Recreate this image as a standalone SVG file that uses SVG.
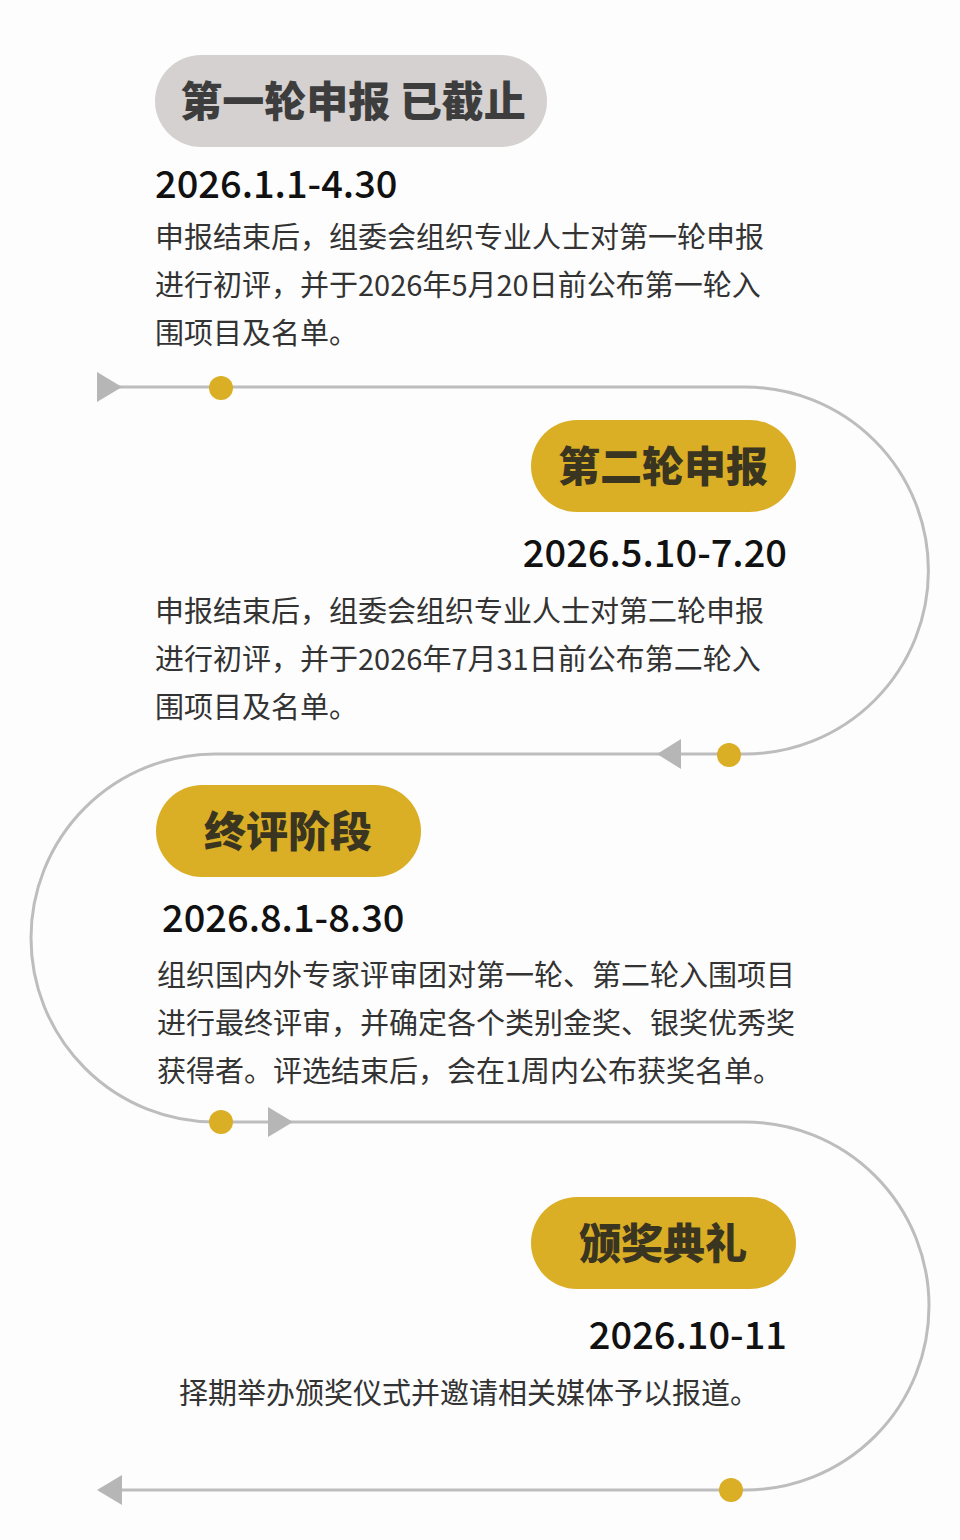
<svg xmlns="http://www.w3.org/2000/svg" width="960" height="1540" viewBox="0 0 960 1540">
<style>
.pt{font-family:"Noto Sans CJK SC",sans-serif;font-weight:900;font-size:42px;text-anchor:middle}
.dt{font-family:"Noto Sans CJK SC",sans-serif;font-weight:500;font-size:38px;fill:#111}
.bd{font-family:"Noto Sans CJK SC",sans-serif;font-size:29px;fill:#333}
.gold{fill:#DAAE25}
.tri{fill:#B5B6B5}
</style>
<rect width="960" height="1540" fill="#fdfdfd"/>
<g id="connectors">
<path d="M110 387 H745 A183.5 183.5 0 0 1 745 754 H215 A184 184 0 0 0 215 1122 H745 A184 184 0 0 1 745 1490 H110" fill="none" stroke="#BDBDBD" stroke-width="3"/>
<polygon class="tri" points="97,372 122,387 97,402"/>
<polygon class="tri" points="681,739 657,754 681,769"/>
<polygon class="tri" points="268,1107 293,1122 268,1137"/>
<polygon class="tri" points="122,1475 97,1490 122,1505"/>
<circle class="gold" cx="221" cy="388" r="12"/>
<circle class="gold" cx="729" cy="755" r="12"/>
<circle class="gold" cx="221" cy="1122" r="12"/>
<circle class="gold" cx="731" cy="1490" r="12"/>
</g>
<g id="stage1">
<rect x="155" y="55" width="392" height="92" rx="46" fill="#D4D1D0"/>
<text class="pt" x="353" y="117" fill="#3d3d3d">第一轮申报 已截止</text>
<text class="dt" x="155" y="198">2026.1.1-4.30</text>
<text class="bd" x="155" y="248">申报结束后，组委会组织专业人士对第一轮申报</text>
<text class="bd" x="155" y="296">进行初评，并于2026年5月20日前公布第一轮入</text>
<text class="bd" x="155" y="344">围项目及名单。</text>
</g>
<g id="stage2">
<rect class="gold" x="531" y="420" width="265" height="92" rx="46"/>
<text class="pt" x="663" y="482" fill="#3a3520">第二轮申报</text>
<text class="dt" x="787" y="567" text-anchor="end">2026.5.10-7.20</text>
<text class="bd" x="155" y="622">申报结束后，组委会组织专业人士对第二轮申报</text>
<text class="bd" x="155" y="670">进行初评，并于2026年7月31日前公布第二轮入</text>
<text class="bd" x="155" y="718">围项目及名单。</text>
</g>
<g id="stage3">
<rect class="gold" x="156" y="785" width="265" height="92" rx="46"/>
<text class="pt" x="288" y="847" fill="#3a3520">终评阶段</text>
<text class="dt" x="162" y="932">2026.8.1-8.30</text>
<text class="bd" x="157" y="986">组织国内外专家评审团对第一轮、第二轮入围项目</text>
<text class="bd" x="157" y="1034">进行最终评审，并确定各个类别金奖、银奖优秀奖</text>
<text class="bd" x="157" y="1082">获得者。评选结束后，会在1周内公布获奖名单。</text>
</g>
<g id="stage4">
<rect class="gold" x="531" y="1197" width="265" height="92" rx="46"/>
<text class="pt" x="663" y="1259" fill="#3a3520">颁奖典礼</text>
<text class="dt" x="787" y="1349" text-anchor="end">2026.10-11</text>
<text class="bd" x="179" y="1404">择期举办颁奖仪式并邀请相关媒体予以报道。</text>
</g>
</svg>
